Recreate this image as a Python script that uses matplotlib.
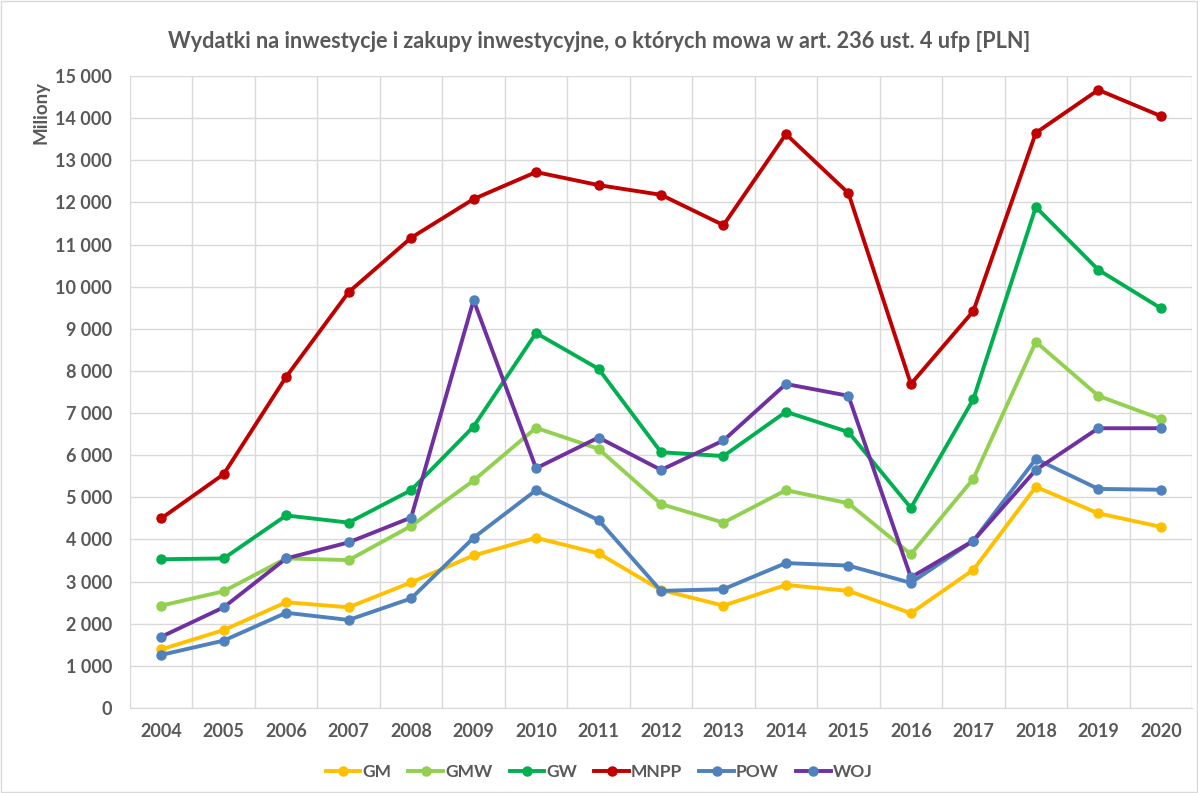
import numpy as np
import matplotlib.pyplot as plt
from matplotlib.ticker import FuncFormatter, MultipleLocator

plt.rcParams['font.family'] = ['Lato', 'DejaVu Sans']

years = list(range(2004, 2021))

# values in millions PLN
gm = [1390, 1850, 2510, 2390, 2980, 3620, 4040, 3670, 2800, 2430, 2920, 2780, 2250, 3280, 5250, 4620, 4300]
gmw = [2430, 2770, 3550, 3510, 4320, 5400, 6650, 6150, 4840, 4400, 5170, 4860, 3650, 5440, 8690, 7410, 6860]
gw = [3530, 3550, 4570, 4400, 5170, 6680, 8900, 8050, 6070, 5980, 7030, 6550, 4750, 7330, 11890, 10400, 9490]
mnpp = [4500, 5550, 7860, 9870, 11160, 12080, 12720, 12410, 12180, 11460, 13620, 12220, 7690, 9420, 13650, 14670, 14050]
pow_ = [1260, 1600, 2260, 2090, 2600, 4040, 5170, 4460, 2780, 2820, 3440, 3380, 2970, 3970, 5910, 5200, 5180]
woj = [1690, 2390, 3550, 3930, 4520, 9680, 5690, 6420, 5650, 6350, 7690, 7410, 3100, 3970, 5650, 6640, 6640]

series = [
    ("GM", gm, "#FFC000", "#FFC000"),
    ("GMW", gmw, "#92D050", "#92D050"),
    ("GW", gw, "#00B050", "#00B050"),
    ("MNPP", mnpp, "#C00000", "#C00000"),
    ("POW", pow_, "#4F81BD", "#4F81BD"),
    ("WOJ", woj, "#7030A0", "#4F81BD"),
]

fig = plt.figure(figsize=(11.98, 7.93), dpi=100)
ax = fig.add_axes([130 / 1198, 1 - 708 / 793, (1192 - 130) / 1198, (708 - 76) / 793])

x = np.arange(len(years))
for name, vals, lc, mc in series:
    ax.plot(x, vals, color=lc, lw=2.8, marker='o', ms=6.5,
            markerfacecolor=mc, markeredgecolor=mc, label=name, zorder=3)

ax.set_xlim(-0.5, len(years) - 0.5)
ax.set_ylim(0, 15000)
ax.yaxis.set_major_locator(MultipleLocator(1000))
ax.yaxis.set_major_formatter(FuncFormatter(lambda v, p: f"{int(v):,}".replace(",", " ")))
ax.set_xticks(x)
ax.set_xticklabels([str(y) for y in years])
ax.set_xticks(np.arange(-0.5, len(years), 1), minor=True)

ax.grid(axis='y', which='major', color='#D9D9D9', lw=1)
ax.grid(axis='x', which='minor', color='#D9D9D9', lw=1)
ax.set_axisbelow(True)
for s in ['top', 'right', 'left']:
    ax.spines[s].set_visible(False)
ax.spines['bottom'].set_color('#D9D9D9')
ax.tick_params(axis='both', which='both', length=0, colors='#595959', labelsize=13)
ax.tick_params(axis='y', pad=13)
ax.tick_params(axis='x', pad=11)
for lab in ax.get_xticklabels() + ax.get_yticklabels():
    lab.set_fontweight('bold')

ax.set_ylabel("Miliony", fontsize=13.5, fontweight='bold', color='#595959')
ax.yaxis.set_label_coords(-0.076, 0.943)

fig.text(0.5, 1 - 42 / 793, "Wydatki na inwestycje i zakupy inwestycyjne, o których mowa w art. 236 ust. 4 ufp [PLN]",
         ha='center', va='center', fontsize=15.6, fontweight='bold', color='#595959')

leg = fig.legend(loc='center', bbox_to_anchor=(0.5, 1 - 772 / 793), ncol=6, frameon=False,
                 fontsize=12.5, handlelength=2.0, handletextpad=0.1, columnspacing=1.0)
for t in leg.get_texts():
    t.set_fontweight('bold')
    t.set_color('#595959')

fig.patches.append(plt.Rectangle((0.001, 0.001), 0.998, 0.998, transform=fig.transFigure,
                                 fill=False, edgecolor='#D9D9D9', lw=1))

fig.savefig("out.png", dpi=100)
